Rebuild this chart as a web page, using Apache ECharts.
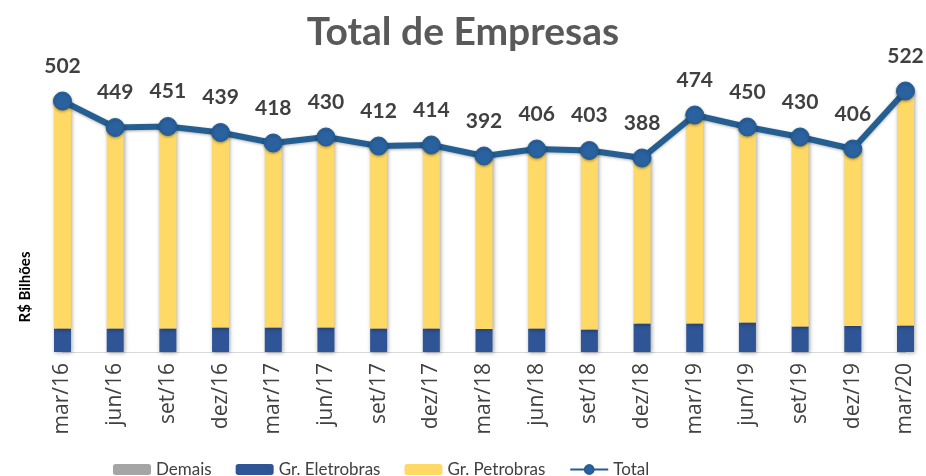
<!DOCTYPE html>
<html>
<head>
<meta charset="utf-8">
<script src="https://cdn.jsdelivr.net/npm/echarts@6/dist/echarts.min.js"></script>
<style>
  html, body { margin: 0; padding: 0; background: #fff; }
  #chart { width: 926px; height: 476px; }
</style>
</head>
<body>
<div id="chart"></div>
<script>
// categorias (trimestres)
var categories = ['mar/16', 'jun/16', 'set/16', 'dez/16', 'mar/17', 'jun/17', 'set/17', 'dez/17', 'mar/18',
  'jun/18', 'set/18', 'dez/18', 'mar/19', 'jun/19', 'set/19', 'dez/19', 'mar/20'];
// valores em R$ bilhões
var demais = [0, 0, 0, 0, 0, 0, 0, 0, 0, 0, 0, 0, 0, 0, 0, 0, 0];
var eletrobras = [47, 47, 47, 49, 49, 49, 47, 47, 46, 47, 45, 57, 57, 59, 51, 52, 53];
var petrobras = [455, 402, 404, 390, 369, 381, 365, 367, 346, 359, 358, 331, 417, 391, 379, 354, 469];
var total = [502, 449, 451, 439, 418, 430, 412, 414, 392, 406, 403, 388, 474, 450, 430, 406, 522];

var font = 'Lato, "Open Sans", sans-serif';
var chart = echarts.init(document.getElementById('chart'));

// sombra das barras
var barShadow = {
  shadowBlur: 4,
  shadowColor: 'rgba(0,0,0,0.35)',
  shadowOffsetX: 1,
  shadowOffsetY: 1
};

var option = {
  backgroundColor: '#ffffff',
  title: {
    text: 'Total de Empresas',
    left: 'center',
    top: 8,
    textStyle: {
      color: '#595959',
      fontSize: 39,
      fontWeight: 'bold',
      fontFamily: font
    }
  },
  legend: {
    left: 108,
    top: 456,
    itemWidth: 38,
    itemHeight: 11,
    itemGap: 24,
    textStyle: {
      color: '#404040',
      fontSize: 17,
      fontFamily: font
    },
    data: ['Demais', 'Gr. Eletrobras', 'Gr. Petrobras', 'Total']
  },
  grid: {
    left: 62.5,
    right: 20.5,
    top: 52,
    bottom: 124
  },
  xAxis: {
    type: 'category',
    data: categories,
    boundaryGap: false,
    axisLine: {
      show: true,
      lineStyle: { color: '#d9d9d9', width: 1 }
    },
    axisTick: { show: false },
    axisLabel: {
      rotate: 90,
      margin: 11,
      interval: 0,
      color: '#404040',
      fontSize: 21,
      fontFamily: '"Open Sans", sans-serif'
    }
  },
  yAxis: {
    type: 'value',
    min: 0,
    max: 600,
    show: false,
    splitLine: { show: false }
  },
  graphic: [{
    type: 'text',
    x: 25,
    y: 287,
    rotation: Math.PI / 2,
    style: {
      text: 'R$ Bilhões',
      fill: '#000000',
      font: 'bold 15px ' + font,
      align: 'center',
      verticalAlign: 'middle'
    }
  }],
  series: [
    {
      name: 'Demais',
      type: 'bar',
      stack: 'empresas',
      barWidth: 17,
      data: demais,
      itemStyle: Object.assign({ color: '#a5a5a5' }, barShadow)
    },
    {
      name: 'Gr. Eletrobras',
      type: 'bar',
      stack: 'empresas',
      barWidth: 17,
      data: eletrobras,
      itemStyle: Object.assign({ color: '#2f5597' }, barShadow)
    },
    {
      name: 'Gr. Petrobras',
      type: 'bar',
      stack: 'empresas',
      barWidth: 17,
      data: petrobras,
      itemStyle: Object.assign({ color: '#ffd966' }, barShadow)
    },
    {
      name: 'Total',
      type: 'line',
      data: total,
      z: 5,
      symbol: 'circle',
      symbolSize: 18,
      lineStyle: {
        color: '#255e91',
        width: 6,
        shadowBlur: 3,
        shadowColor: 'rgba(0,0,0,0.3)',
        shadowOffsetY: 1
      },
      itemStyle: {
        color: '#2a62a0',
        borderColor: '#255e91',
        borderWidth: 1,
        shadowBlur: 3,
        shadowColor: 'rgba(0,0,0,0.35)',
        shadowOffsetY: 1
      },
      label: {
        show: true,
        position: 'top',
        distance: 15,
        color: '#404040',
        fontSize: 21,
        fontWeight: 'bold',
        fontFamily: font
      }
    }
  ]
};

chart.setOption(option);
</script>
</body>
</html>
